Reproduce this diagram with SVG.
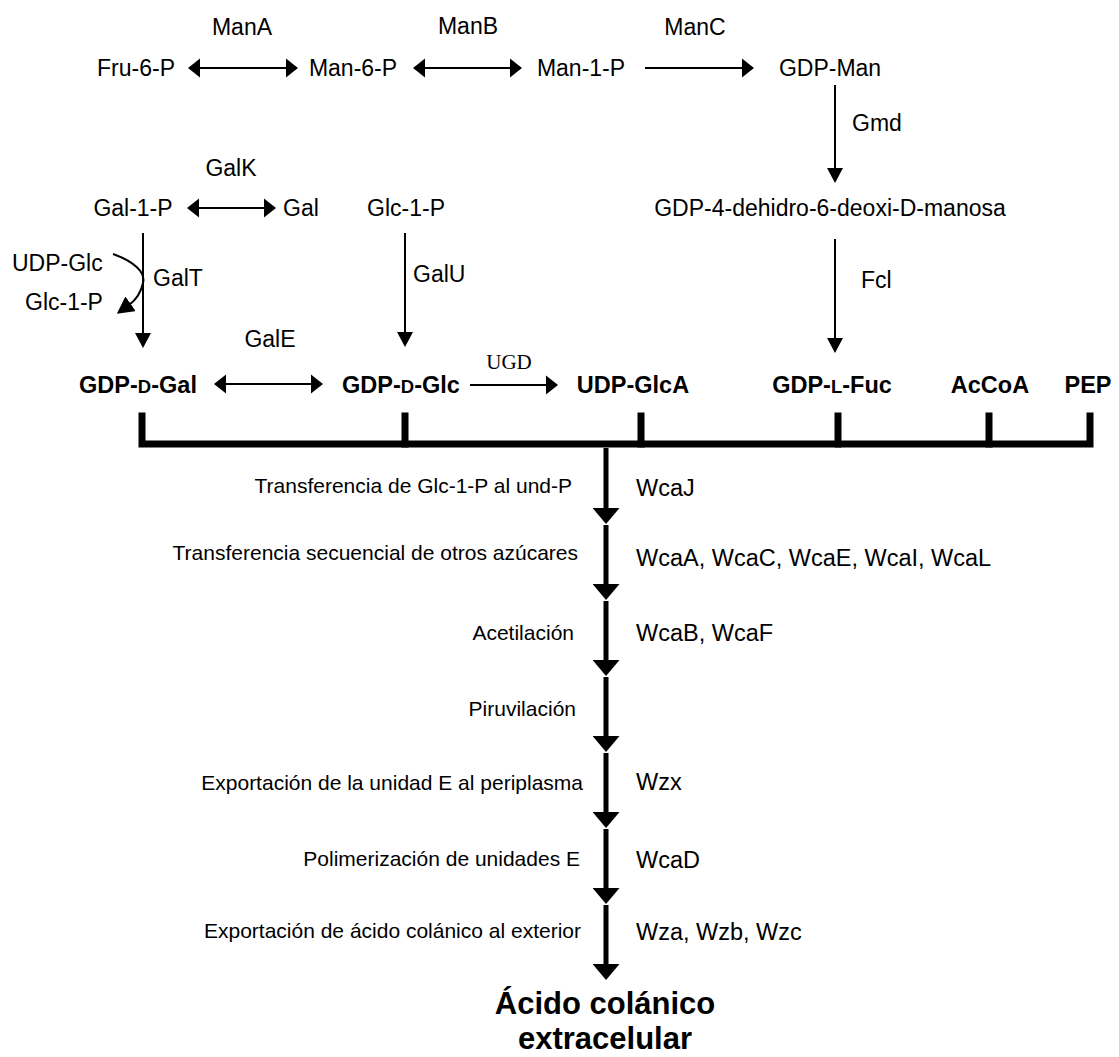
<svg xmlns="http://www.w3.org/2000/svg" width="1119" height="1057" viewBox="0 0 1119 1057">
<style>
text{font-family:"Liberation Sans",Arial,Helvetica,sans-serif;fill:#000}
.t{font-size:23px}
.b{font-size:23.5px;font-weight:bold}
.d{font-size:21px}
.w{font-size:23.5px}
.s{font-family:"Liberation Serif","Times New Roman",serif;font-size:21px}
.big{font-size:31px;font-weight:bold}
.m{text-anchor:middle}
.e{text-anchor:end}
.ln{stroke:#000;stroke-width:2;fill:none}
.bold{stroke:#000;stroke-width:5;fill:none}
.bar{stroke:#000;stroke-width:7;fill:none;stroke-linecap:square}
</style>
<defs>
<marker id="h" markerUnits="userSpaceOnUse" markerWidth="13" markerHeight="20" viewBox="0 0 13 20" refX="2" refY="10" orient="auto-start-reverse"><path d="M0,0.5 L12,10 L0,19.5 Z" fill="#000"/></marker>
<marker id="v" markerUnits="userSpaceOnUse" markerWidth="15" markerHeight="16" viewBox="0 0 15 16" refX="2" refY="8" orient="auto"><path d="M0,0 L15,8 L0,16 Z" fill="#000"/></marker>
<marker id="c" markerUnits="userSpaceOnUse" markerWidth="17" markerHeight="18" viewBox="0 0 17 18" refX="2" refY="9" orient="auto"><path d="M0,0 L17,9 L0,18 Z" fill="#000"/></marker>
<marker id="bk" markerUnits="userSpaceOnUse" markerWidth="16" markerHeight="27" viewBox="0 0 16 27" refX="2" refY="13.5" orient="auto"><path d="M0,0 L16,13.5 L0,27 Z" fill="#000"/></marker>
</defs>

<g id="connectors">
<line class="ln" x1="198" y1="68" x2="288" y2="68" marker-start="url(#h)" marker-end="url(#h)"/>
<line class="ln" x1="423" y1="68" x2="512" y2="68" marker-start="url(#h)" marker-end="url(#h)"/>
<line class="ln" x1="645" y1="68" x2="744" y2="68" marker-end="url(#h)"/>
<line class="ln" x1="197" y1="208" x2="266" y2="208" marker-start="url(#h)" marker-end="url(#h)"/>
<line class="ln" x1="835" y1="85" x2="835" y2="170" marker-end="url(#v)"/>
<line class="ln" x1="835" y1="239" x2="835" y2="340" marker-end="url(#v)"/>
<line class="ln" x1="143" y1="233" x2="143" y2="335" marker-end="url(#v)"/>
<line class="ln" x1="405" y1="233" x2="405" y2="334" marker-end="url(#v)"/>
<path class="ln" d="M113,254 C133,261 146,272 143,283 C141,292 136,300 129,305" marker-end="url(#c)"/>
<line class="ln" x1="224" y1="384" x2="313" y2="384" marker-start="url(#h)" marker-end="url(#h)"/>
<line class="ln" x1="470" y1="385" x2="548" y2="385" marker-end="url(#h)"/>
<path class="bar" d="M142,416 V444 H1090 V416"/>
<line class="bar" x1="405" y1="416" x2="405" y2="444"/>
<line class="bar" x1="641" y1="416" x2="641" y2="444"/>
<line class="bar" x1="838" y1="416" x2="838" y2="444"/>
<line class="bar" x1="989" y1="416" x2="989" y2="444"/>
<line class="bold" x1="606" y1="448" x2="606" y2="510" marker-end="url(#bk)"/>
<line class="bold" x1="606" y1="525" x2="606" y2="586" marker-end="url(#bk)"/>
<line class="bold" x1="606" y1="601" x2="606" y2="662" marker-end="url(#bk)"/>
<line class="bold" x1="606" y1="677" x2="606" y2="738" marker-end="url(#bk)"/>
<line class="bold" x1="606" y1="753" x2="606" y2="814" marker-end="url(#bk)"/>
<line class="bold" x1="606" y1="829" x2="606" y2="890" marker-end="url(#bk)"/>
<line class="bold" x1="606" y1="905" x2="606" y2="966" marker-end="url(#bk)"/>
</g>

<g id="enzymes">
<text class="t m" x="242" y="35">ManA</text>
<text class="t m" x="468" y="34">ManB</text>
<text class="t m" x="695" y="35">ManC</text>
<text class="t" x="852" y="131">Gmd</text>
<text class="t" x="861" y="288">Fcl</text>
<text class="t m" x="231" y="176">GalK</text>
<text class="t" x="153" y="286">GalT</text>
<text class="t" x="413" y="282">GalU</text>
<text class="t m" x="270" y="347">GalE</text>
<text class="s m" x="509" y="369">UGD</text>
</g>

<g id="node-fru6p"><text class="t m" x="136" y="76">Fru-6-P</text></g>
<g id="node-man6p"><text class="t m" x="353" y="76">Man-6-P</text></g>
<g id="node-man1p"><text class="t m" x="581" y="76">Man-1-P</text></g>
<g id="node-gdpman"><text class="t m" x="830" y="76">GDP-Man</text></g>
<g id="node-gdp4"><text class="t m" x="830" y="216">GDP-4-dehidro-6-deoxi-D-manosa</text></g>
<g id="node-gal1p"><text class="t m" x="133" y="216">Gal-1-P</text></g>
<g id="node-gal"><text class="t m" x="301" y="216">Gal</text></g>
<g id="node-glc1p"><text class="t m" x="406" y="216">Glc-1-P</text></g>
<g id="node-udpglc"><text class="t" x="12" y="271">UDP-Glc</text></g>
<g id="node-glc1p-b"><text class="t" x="25" y="310">Glc-1-P</text></g>

<g id="node-gdpgal"><text class="b m" x="138" y="393">GDP-<tspan font-size="18.5px">D</tspan>-Gal</text></g>
<g id="node-gdpglc"><text class="b m" x="401" y="393">GDP-<tspan font-size="18.5px">D</tspan>-Glc</text></g>
<g id="node-udpglca"><text class="b m" x="633" y="393">UDP-GlcA</text></g>
<g id="node-gdpfuc"><text class="b m" x="832" y="393">GDP-<tspan font-size="18.5px">L</tspan>-Fuc</text></g>
<g id="node-accoa"><text class="b m" x="990" y="393">AcCoA</text></g>
<g id="node-pep"><text class="b m" x="1088" y="393">PEP</text></g>

<g id="steps">
<text class="d e" x="572" y="493">Transferencia de Glc-1-P al und-P</text>
<text class="d e" x="578" y="560">Transferencia secuencial de otros azúcares</text>
<text class="d e" x="574" y="640">Acetilación</text>
<text class="d e" x="576" y="716">Piruvilación</text>
<text class="d e" x="583" y="790">Exportación de la unidad E al periplasma</text>
<text class="d e" x="580" y="866">Polimerización de unidades E</text>
<text class="d e" x="581" y="938">Exportación de ácido colánico al exterior</text>
</g>

<g id="step-enzymes">
<text class="w" x="636" y="496">WcaJ</text>
<text class="w" x="636" y="566">WcaA, WcaC, WcaE, WcaI, WcaL</text>
<text class="w" x="636" y="641">WcaB, WcaF</text>
<text class="w" x="636" y="790">Wzx</text>
<text class="w" x="636" y="868">WcaD</text>
<text class="w" x="636" y="940">Wza, Wzb, Wzc</text>
</g>

<g id="node-product">
<text class="big m" x="605" y="1014">Ácido colánico</text>
<text class="big m" x="605" y="1049">extracelular</text>
</g>
</svg>
